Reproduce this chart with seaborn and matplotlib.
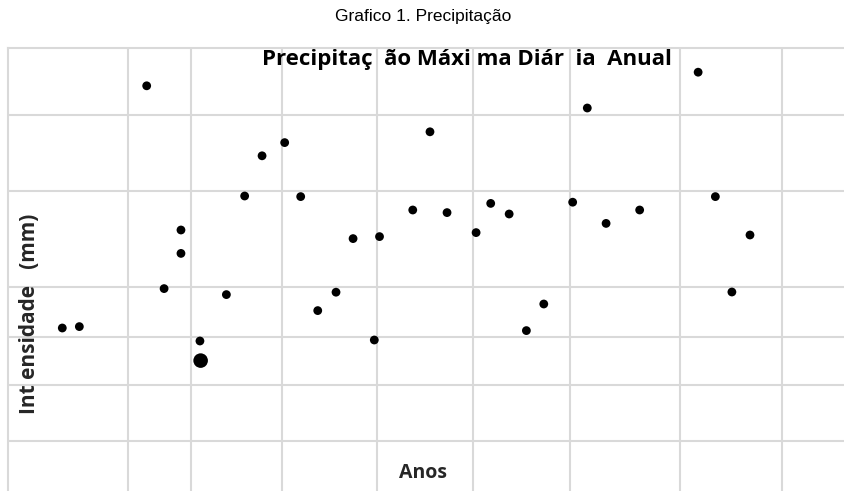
import matplotlib
matplotlib.use("Agg")
import matplotlib.pyplot as plt
import seaborn as sns
import pandas as pd

# valores (eixo sem rotulos: posicao do ano e intensidade em mm)
anos = [3.12, 4.10, 7.97, 8.97, 9.94, 9.94, 11.03, 11.07, 12.55, 13.6,
        14.6, 15.9, 16.82, 17.8, 18.85, 19.83, 21.05, 21.35, 23.26, 24.25,
        25.23, 26.9, 27.74, 28.8, 29.79, 30.79, 32.45, 33.29, 34.37, 36.3,
        39.66, 40.65, 41.6, 42.64]
intensidade = [40.75, 41.1, 101.3, 50.6, 65.25, 59.4, 37.5, 32.6, 49.1, 73.75,
               83.8, 87.1, 73.6, 45.1, 49.7, 63.1, 37.75, 63.6, 70.25, 89.8,
               69.6, 64.6, 71.9, 69.25, 40.1, 46.75, 72.2, 95.75, 66.9, 70.25,
               104.7, 73.6, 49.75, 64.0]
destaque = 7  # ponto maior

# linhas de grade (posicoes irregulares como no original)
grade_x = [6.9, 10.52, 15.75, 21.21, 26.72, 32.3, 38.62, 44.48]
grade_y = [12.5, 26.5, 38.5, 51, 75, 94]

df = pd.DataFrame({"ano": anos, "mm": intensidade})

sns.set_style("whitegrid", {"grid.color": "#d9d9d9"})
plt.rcParams["font.family"] = ["Liberation Sans", "DejaVu Sans"]
negrito = ["Open Sans", "DejaVu Sans"]

fig = plt.figure(figsize=(8.45, 4.91), dpi=100)
ax = fig.add_axes([8 / 845, 0, 837 / 845, 443 / 491])

sns.scatterplot(data=df.drop(index=destaque), x="ano", y="mm", ax=ax,
                color="black", s=40, edgecolor="none")
sns.scatterplot(x=[anos[destaque]], y=[intensidade[destaque]], ax=ax,
                color="black", s=110, edgecolor="none")

ax.set_xlim(0, 48.1)
ax.set_ylim(0, 110.75)
ax.set_xticks(grade_x)
ax.set_yticks(grade_y)
ax.set_xticklabels([])
ax.set_yticklabels([])
ax.tick_params(length=0)
ax.grid(True, color="#d9d9d9", linewidth=1.5)
ax.set_xlabel("")
ax.set_ylabel("")
for lado in ["right", "bottom"]:
    ax.spines[lado].set_visible(False)
for lado in ["top", "left"]:
    ax.spines[lado].set_color("#d9d9d9")
    ax.spines[lado].set_linewidth(1.5)

fig.text(423 / 845, 1 - 17 / 491, "Grafico 1. Precipitação",
         ha="center", va="center", fontsize=12.5, color="black")
fig.text(467 / 845, 1 - 59 / 491, "Precipitaç  ão Máxi ma Diár  ia  Anual",
         ha="center", va="center", fontsize=16, fontweight="bold",
         family=negrito, color="black")
fig.text(423 / 845, 1 - 473 / 491, "Anos", ha="center", va="center",
         fontsize=14, fontweight="bold", family=negrito)
fig.text(30 / 845, 1 - 314 / 491, "Int ensidade   (mm)", ha="center",
         va="center", rotation=90, fontsize=15, fontweight="bold",
         family=negrito)

fig.savefig("out.png", dpi=100)
